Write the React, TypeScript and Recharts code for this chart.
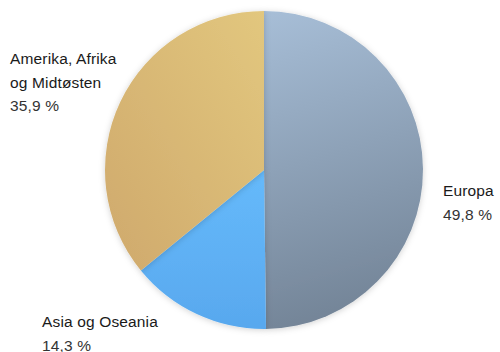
import { PieChart, Pie, Cell } from 'recharts';

const regions = ['Europa', 'Asia og Oseania', 'Amerika, Afrika\nog Midtøsten'];
const shares = [49.8, 14.3, 35.9];
const gradientIds = ['gEuropa', 'gAsia', 'gAmerika'];

// label anchor (left x, first baseline y) per slice
const labelPos = [
    { x: 443, y: 196 },
    { x: 42, y: 327 },
    { x: 10, y: 64 },
];

const data = regions.map((name, i) => ({ name, value: shares[i] }));

const fmt = (v: number) => v.toFixed(1).replace('.', ',') + ' %';

const renderLabel = (props: any) => {
    const { index } = props;
    const pos = labelPos[index];
    const lines = [...data[index].name.split('\n'), fmt(data[index].value)];
    return (
        <text x={pos.x} y={pos.y} fill="#1f1f1f" fontSize={15.5}
            fontFamily="'Liberation Sans', Arial, sans-serif" letterSpacing={0.15}>
            {lines.map((l, i) => (
                <tspan key={i} x={pos.x} dy={i === 0 ? 0 : 23.5}
                    fill={i === lines.length - 1 ? '#333' : '#1a1a1a'}>{l}</tspan>
            ))}
        </text>
    );
};

const App = () => {
    return (
        <div style={{ position: 'absolute', left: 0, top: 0, background: '#fff' }}>
            <PieChart width={500} height={352} margin={{ top: 0, right: 0, bottom: 0, left: 0 }}>
                <defs>
                    <linearGradient id="gEuropa" x1="0" y1="0" x2="0.15" y2="1">
                        <stop offset="0%" stopColor="#a7bed7" />
                        <stop offset="100%" stopColor="#748598" />
                    </linearGradient>
                    <linearGradient id="gAsia" x1="0" y1="0" x2="0" y2="1">
                        <stop offset="0%" stopColor="#66bafb" />
                        <stop offset="100%" stopColor="#58a8ee" />
                    </linearGradient>
                    <linearGradient id="gAmerika" x1="1" y1="0" x2="0" y2="1">
                        <stop offset="0%" stopColor="#e2c77e" />
                        <stop offset="100%" stopColor="#cfa96c" />
                    </linearGradient>
                    <filter id="shadow" x="-10%" y="-10%" width="120%" height="120%">
                        <feDropShadow dx="0" dy="1" stdDeviation="3" floodColor="#000" floodOpacity="0.18" />
                    </filter>
                </defs>
                <Pie
                    data={data}
                    dataKey="value"
                    nameKey="name"
                    cx={264}
                    cy={170}
                    outerRadius={159}
                    startAngle={90}
                    endAngle={-270}
                    stroke="none"
                    label={renderLabel}
                    labelLine={false}
                    isAnimationActive={false}
                    style={{ filter: 'url(#shadow)' }}
                >
                    {data.map((d, i) => (
                        <Cell key={d.name} fill={`url(#${gradientIds[i]})`} />
                    ))}
                </Pie>
            </PieChart>
        </div>
    );
};

export default App;
